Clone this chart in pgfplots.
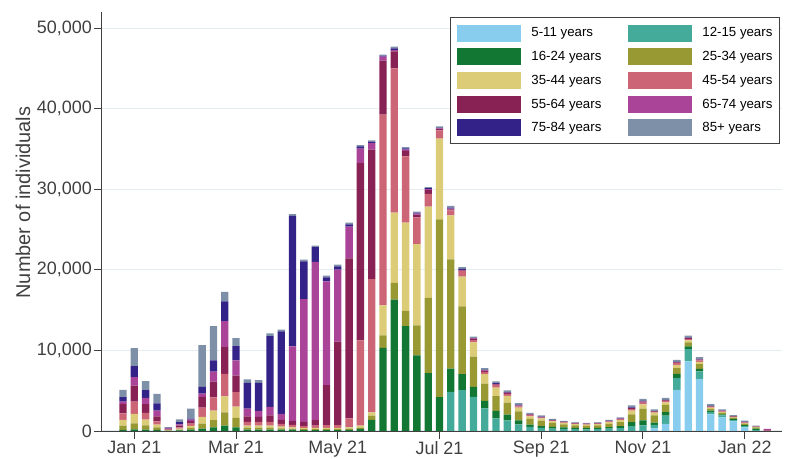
\documentclass[border=0pt]{standalone}
\usepackage{fontspec}
\setmainfont{Liberation Sans}
\usepackage{pgfplots}
\usepackage{pgfplotstable}
\pgfplotsset{compat=1.18}

\definecolor{cA}{HTML}{88CCEE}
\definecolor{cB}{HTML}{44AA99}
\definecolor{cC}{HTML}{117733}
\definecolor{cD}{HTML}{999933}
\definecolor{cE}{HTML}{DDCC77}
\definecolor{cF}{HTML}{CC6677}
\definecolor{cG}{HTML}{882255}
\definecolor{cH}{HTML}{AA4499}
\definecolor{cI}{HTML}{332288}
\definecolor{cJ}{HTML}{7D90A8}
\definecolor{gridc}{HTML}{E4EDEF}
\definecolor{axc}{HTML}{404040}

% weekly counts by age group, bottom to top of each stack
\pgfplotstableread{
x  lb   teal grn   olv   snd   rose  wine  purp  indg  grey
0  0    0    125   540   705   830   1160  290   540   913
1  0    0    200   750   1160  1535  1990  1040  1370  2240
2  0    0    165   540   705   830   1080  790   955   1120
3  0    0    125   330   330   415   620   705   915   1160
4  0    0    20    40    40    60    120   60    80    60
5  0    0    80    80    125   165   210   165   290   330
6  0    0    165   210   250   290   330   165   125   1245
7  0    0    290   620   830   1160  1330  415   830   5190
8  0    0    455   910   1160  1660  1950  1245  1370  4270
9  0    0    660   1660  1990  2780  3320  3240  2450  1160
10 0    0    455   1160  1410  1785  2075  1870  1785  1000
11 0    0    165   250   250   455   705   955   3200  415
12 0    0    165   250   250   455   620   750   3490  330
13 0    0    165   250   250   455   830   1040  8800  330
14 0    0    165   165   210   330   500   750   10250 210
15 0    0    165   125   165   290   500   9250  16200 210
16 0    0    100   125   125   250   540   15230 4690  210
17 0    0    100   125   165   290   665   19630 1830  210
18 0    0    100   125   165   330   4980  12865 500   210
19 0    0    100   125   165   330   10375 8920  415   210
20 0    0    125   165   165   1120  19840 3940  290   210
21 0    0    250   165   250   10580 22000 1785  290   165
22 0    0    1370  540   415   16520 16060 830   165   165
23 0    0    10330 1535  3735  23655 6720  500   125   125
24 0    0    16310 2075  8715  17890 2115  165   210   210
25 0    0    13030 1870  10955 8220  705   125   165   165
26 0    0    9380  3735  10085 3320  330   125   125   125
27 0    0    7180  9340  11330 1580  455   125   125   125
28 0    0    4190  22080 10000 1040  165   80    80    165
29 0    4855 2900  13530 5480  620   125   85    120   210
30 0    5060 1990  8425  3690  665   100   65    120   210
31 0    4235 1245  3735  1785  290   130   60    60    165
32 0    2820 910   2160  1160  290   110   60    80    210
33 0    1575 910   1850  1060  290   110   60    80    210
34 0    1330 700   1480  850   250   110   50    60    210
35 0    830  500   1100  460   165   90    40    50    210
36 0    520  260   740   310   125   70    30    40    165
37 0    390  220   690   270   80    60    30    40    165
38 0    290  210   500   210   80    50    20    30    125
39 0    250  190   370   190   80    40    20    20    85
40 0    220  160   320   160   70    40    15    15    80
41 0    200  150   300   150   60    35    15    15    75
42 0    220  160   320   160   70    40    15    15    80
43 0    280  200   410   200   90    50    20    20    100
44 0    350  250   500   250   110   60    25    25    130
45 0    600  500   960   455   200   120   50    45    250
46 0    705  620   1450  540   200   120   50    45    250
47 330  415  290   900   330   110   60    25    15    210
48 880  1040 415   900   330   150   90    30    20    250
49 5100 1450 540   705   415   200   110   40    25    250
50 8630 1535 330   500   250   170   100   40    20    250
51 6430 955  330   580   290   170   100   40    20    250
52 2075 290  165   210   165   110   60    20    20    210
53 1700 250  125   165   125   80    50    20    15    165
54 1200 165  125   165   80    60    40    15    10    125
55 450  165  125   165   80    80    50    20    15    125
56 0    100  200   160   50    30    20    10    10    80
57 0    0    0     0     0     50    100   100   0     0
}\vaxdata

\begin{document}
\begin{tikzpicture}
\begin{axis}[
    scale only axis,
    width=680bp, height=419bp,
    xmin=-1.86, xmax=58.3,
    ymin=0, ymax=52000,
    ybar stacked,
    bar width=0.65,
    legend image code/.code={\path[#1,draw=none] (0bp,-8.5bp) rectangle (64bp,8.5bp);},
    axis x line*=bottom,
    axis y line*=left,
    axis line style={draw=axc, line width=1bp},
    tick style={draw=axc, line width=1bp},
    tick align=outside,
    major tick length=8bp,
    xtick={1,10,19,28,37,46,55},
    xticklabels={Jan 21,Mar 21,May 21,Jul 21,Sep 21,Nov 21,Jan 22},
    ytick={0,10000,20000,30000,40000,50000},
    scaled y ticks=false,
    yticklabel style={/pgf/number format/.cd, fixed, 1000 sep={,}},
    tick label style={font=\fontsize{18}{20}\selectfont, text=axc, inner sep=2bp,
        /pgf/number format/assume math mode=true},
    ymajorgrids,
    major grid style={draw=gridc, line width=1.2bp},
    ylabel={Number of individuals},
    ylabel style={font=\fontsize{20}{22}\selectfont, text=axc,
        at={(axis description cs:-0.116,0.545)}, anchor=center},
    legend columns=2,
    legend cell align=left,
    legend style={at={(rel axis cs:0.997,0.988)}, anchor=north east,
        draw=axc, line width=1bp, fill=white,
        inner xsep=7bp, inner ysep=7bp,
        row sep=6.7bp, column sep=10bp,
        nodes={inner sep=0bp},
        font=\fontsize{13.3}{15}\selectfont},
]
\coordinate (O) at (rel axis cs:0,0);
\addplot[fill=cA, draw=none] table[x=x, y=lb]   {\vaxdata};
\addlegendentry{\makebox[87bp][l]{5-11 years}}
\addplot[fill=cB, draw=none] table[x=x, y=teal] {\vaxdata};
\addlegendentry{\makebox[70bp][l]{12-15 years}}
\addplot[fill=cC, draw=none] table[x=x, y=grn]  {\vaxdata};
\addlegendentry{\makebox[87bp][l]{16-24 years}}
\addplot[fill=cD, draw=none] table[x=x, y=olv]  {\vaxdata};
\addlegendentry{\makebox[70bp][l]{25-34 years}}
\addplot[fill=cE, draw=none] table[x=x, y=snd]  {\vaxdata};
\addlegendentry{\makebox[87bp][l]{35-44 years}}
\addplot[fill=cF, draw=none] table[x=x, y=rose] {\vaxdata};
\addlegendentry{\makebox[70bp][l]{45-54 years}}
\addplot[fill=cG, draw=none] table[x=x, y=wine] {\vaxdata};
\addlegendentry{\makebox[87bp][l]{55-64 years}}
\addplot[fill=cH, draw=none] table[x=x, y=purp] {\vaxdata};
\addlegendentry{\makebox[70bp][l]{65-74 years}}
\addplot[fill=cI, draw=none] table[x=x, y=indg] {\vaxdata};
\addlegendentry{\makebox[87bp][l]{75-84 years}}
\addplot[fill=cJ, draw=none] table[x=x, y=grey] {\vaxdata};
\addlegendentry{\makebox[70bp][l]{85+ years}}
\end{axis}
\pgfresetboundingbox
\path (O) ++(-102bp,-28bp) rectangle ++(786bp,459bp);
\end{tikzpicture}
\end{document}
